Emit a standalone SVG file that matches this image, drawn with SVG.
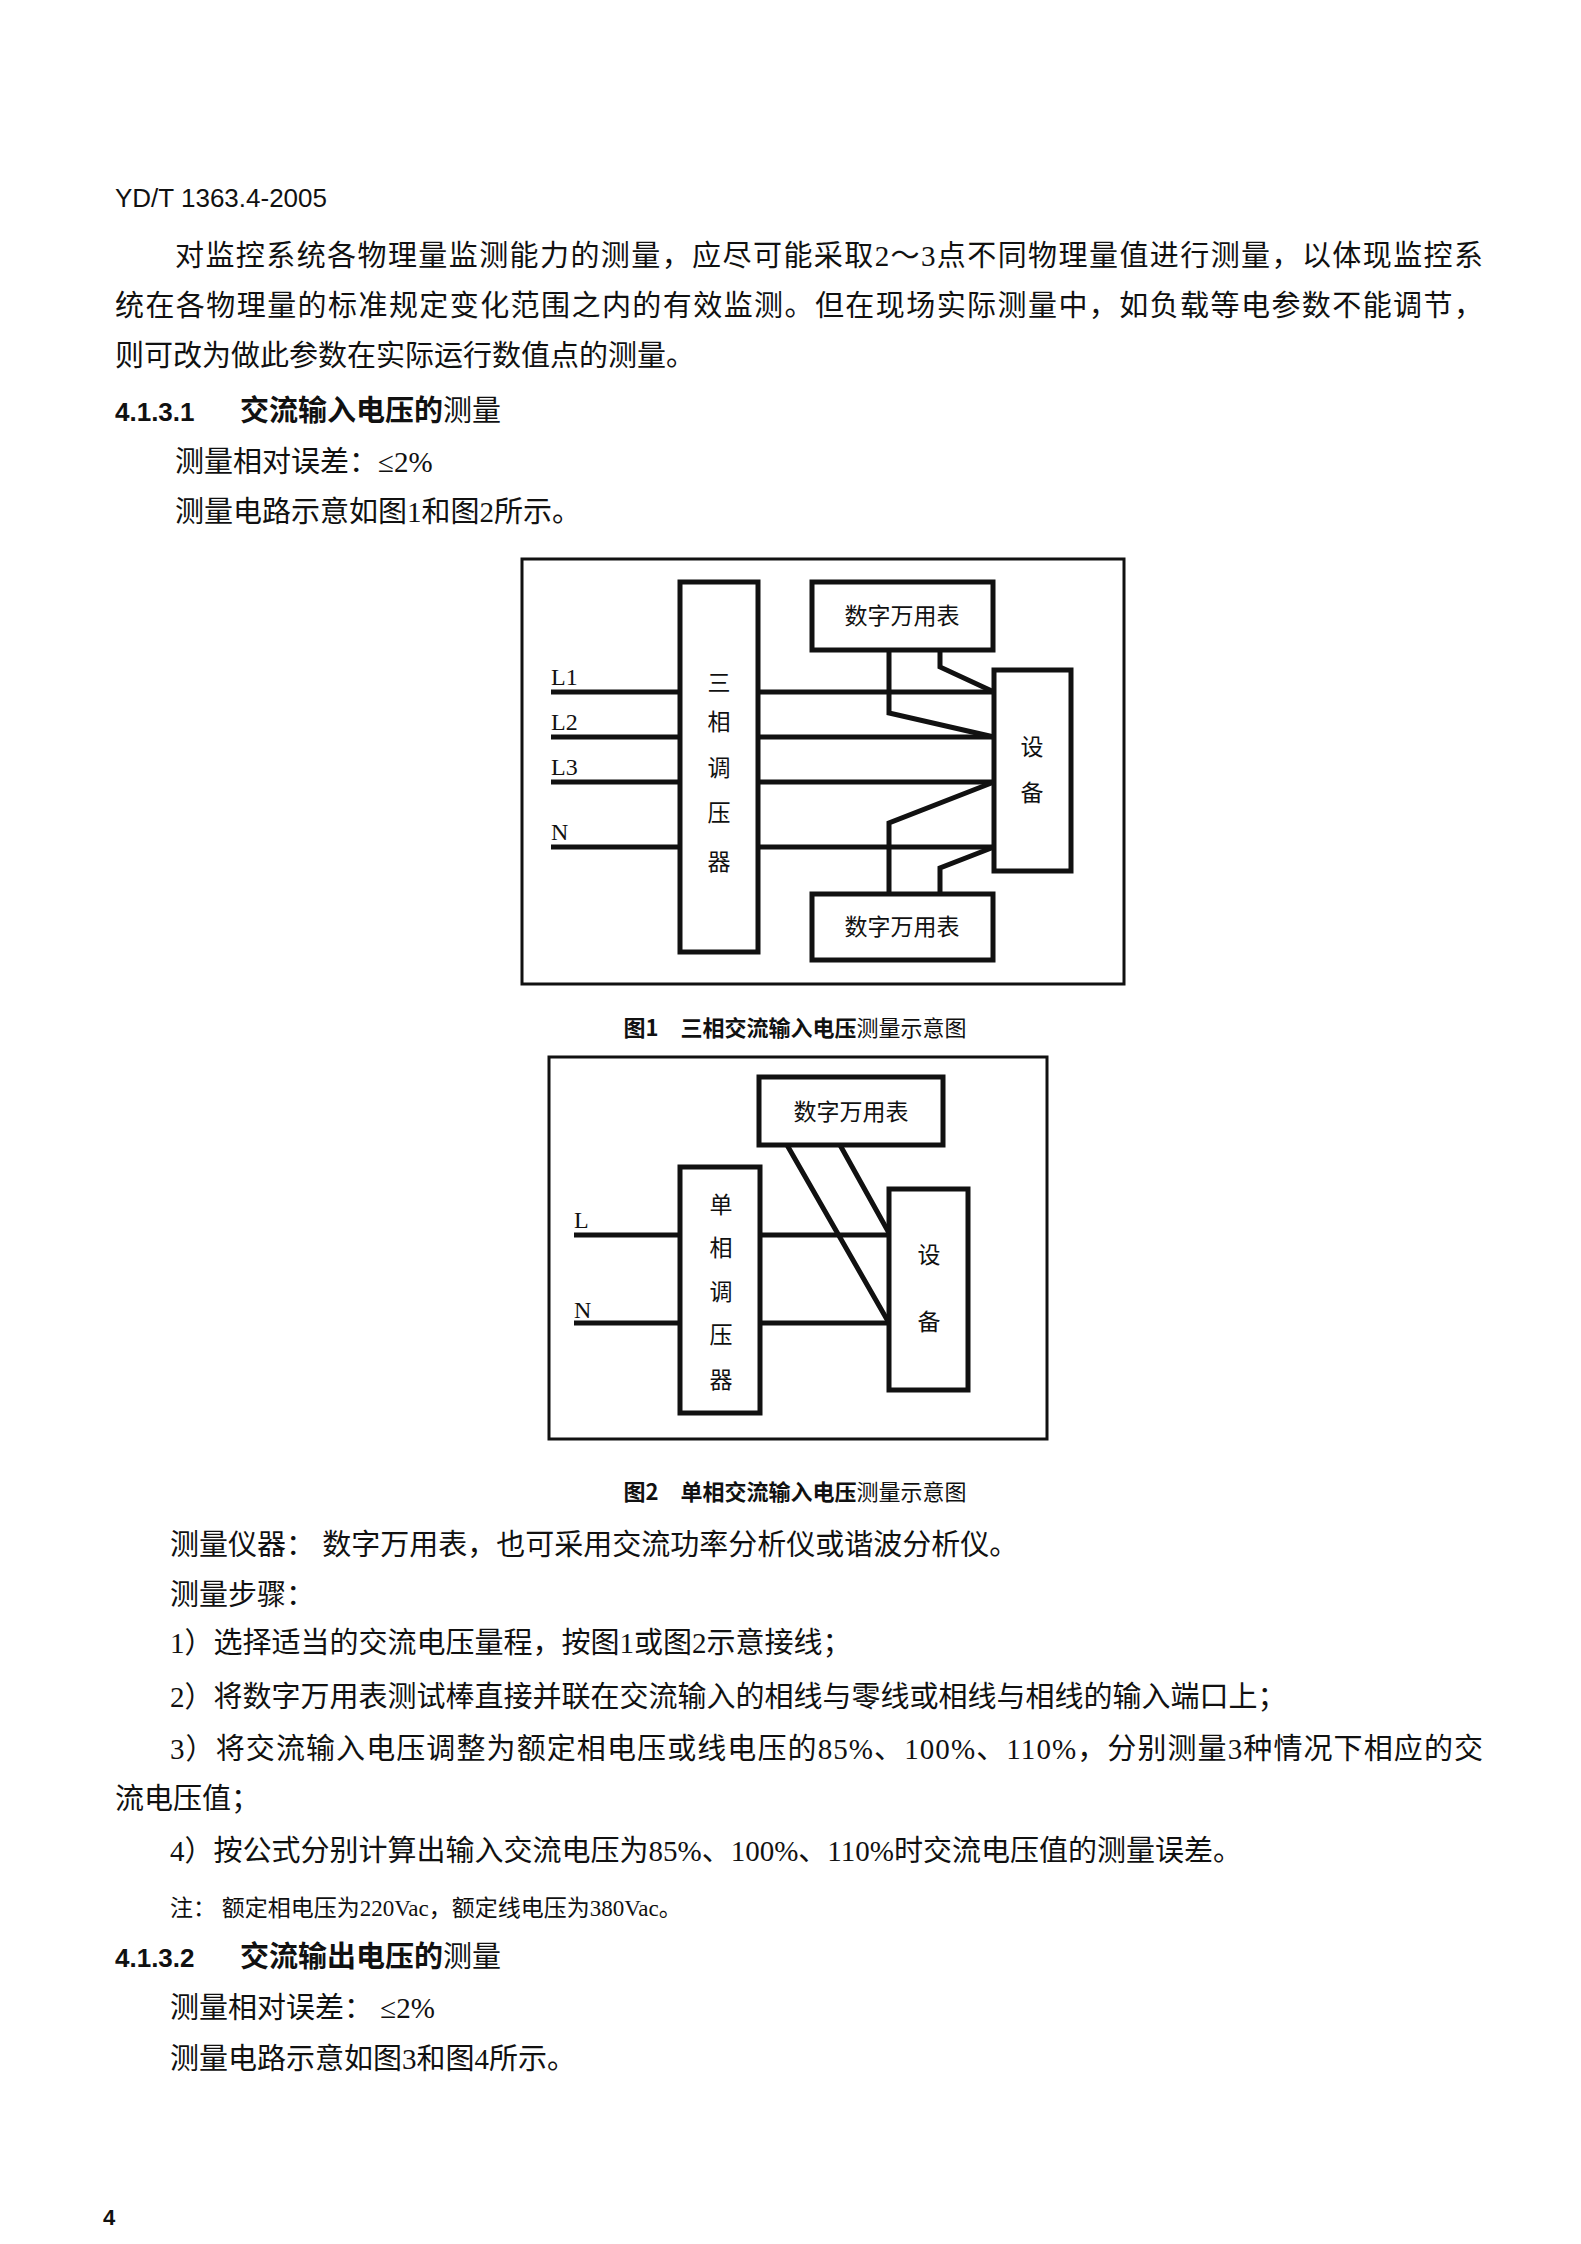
<svg xmlns="http://www.w3.org/2000/svg" width="1581" height="2244" viewBox="0 0 1581 2244">
<style>
.t{font-family:"Liberation Serif","Noto Sans CJK SC",serif;font-size:29px;fill:#111}
.h{font-family:"Liberation Sans","Noto Sans CJK SC",sans-serif;font-size:26px;fill:#111}
.hb{font-weight:bold}
.b{fill:none;stroke:#111;stroke-width:3}
.bx{fill:#fff;stroke:#111;stroke-width:5}
.w{fill:none;stroke:#111;stroke-width:5}
.n{font-family:"Noto Sans CJK SC",sans-serif;font-size:23px;fill:#111;text-anchor:middle}
.lb{font-family:"Liberation Serif",serif;font-size:24px;fill:#111}
.c{font-family:"Noto Sans CJK SC",sans-serif;font-size:22px;fill:#111;text-anchor:middle}
</style>
<rect width="1581" height="2244" fill="#fff"/>
<text class="h" x="115" y="207">YD/T 1363.4-2005</text>
<text class="t" x="175" y="266" textLength="1308">对监控系统各物理量监测能力的测量，应尽可能采取2～3点不同物理量值进行测量，以体现监控系</text>
<text class="t" x="115" y="316" textLength="1368">统在各物理量的标准规定变化范围之内的有效监测。但在现场实际测量中，如负载等电参数不能调节，</text>
<text class="t" x="115" y="366">则可改为做此参数在实际运行数值点的测量。</text>
<text class="h hb" x="115" y="421">4.1.3.1</text><text class="t" x="240" y="421"><tspan class="hb">交流输入电压的</tspan>测量</text>
<text class="t" x="175" y="472">测量相对误差：≤2%</text>
<text class="t" x="175" y="522">测量电路示意如图1和图2所示。</text>

<g id="fig1">
<rect class="b" x="522" y="559" width="602" height="425"/>
<g id="connectors1">
<path class="w" d="M551 692H680M551 737H680M551 782H680M551 847H680"/>
<path class="w" d="M758 692H994M758 737H994M758 782H994M758 847H994"/>
<path class="w" d="M940 650V667L994 692M889 650V713L994 737"/>
<path class="w" d="M889 894V823L994 782M940 894V868L994 847"/>
</g>
<text class="lb" x="551" y="685">L1</text>
<text class="lb" x="551" y="730">L2</text>
<text class="lb" x="551" y="775">L3</text>
<text class="lb" x="551" y="840">N</text>
<g id="regulator3"><rect class="bx" x="680" y="582" width="78" height="370"/>
<text class="n" x="719" y="691">三</text><text class="n" x="719" y="730">相</text><text class="n" x="719" y="776">调</text><text class="n" x="719" y="821">压</text><text class="n" x="719" y="870">器</text></g>
<g id="meter1a"><rect class="bx" x="812" y="582" width="181" height="68"/><text class="n" x="902" y="624">数字万用表</text></g>
<g id="meter1b"><rect class="bx" x="812" y="894" width="181" height="66"/><text class="n" x="902" y="935">数字万用表</text></g>
<g id="device1"><rect class="bx" x="994" y="670" width="77" height="201"/><text class="n" x="1032" y="755">设</text><text class="n" x="1032" y="801">备</text></g>
<text class="c" x="795" y="1036"><tspan class="hb">图1　三相交流输入电压</tspan>测量示意图</text>
</g>

<g id="fig2">
<rect class="b" x="549" y="1057" width="498" height="382"/>
<g id="connectors2">
<path class="w" d="M574 1235H680M574 1323H680M760 1235H889M760 1323H889"/>
<path class="w" d="M787 1145L889 1323M840 1145L889 1233"/>
</g>
<text class="lb" x="574" y="1228">L</text>
<text class="lb" x="574" y="1318">N</text>
<g id="meter2"><rect class="bx" x="759" y="1077" width="184" height="68"/><text class="n" x="851" y="1120">数字万用表</text></g>
<g id="regulator1"><rect class="bx" x="680" y="1167" width="80" height="246"/>
<text class="n" x="721" y="1213">单</text><text class="n" x="721" y="1256">相</text><text class="n" x="721" y="1300">调</text><text class="n" x="721" y="1343">压</text><text class="n" x="721" y="1388">器</text></g>
<g id="device2"><rect class="bx" x="889" y="1189" width="79" height="201"/><text class="n" x="929" y="1263">设</text><text class="n" x="929" y="1330">备</text></g>
<text class="c" x="795" y="1500"><tspan class="hb">图2　单相交流输入电压</tspan>测量示意图</text>
</g>

<text class="t" x="170" y="1555">测量仪器：  数字万用表，也可采用交流功率分析仪或谐波分析仪。</text>
<text class="t" x="170" y="1605">测量步骤：</text>
<text class="t" x="170" y="1653">1）选择适当的交流电压量程，按图1或图2示意接线；</text>
<text class="t" x="170" y="1707">2）将数字万用表测试棒直接并联在交流输入的相线与零线或相线与相线的输入端口上；</text>
<text class="t" x="170" y="1759" textLength="1313">3）将交流输入电压调整为额定相电压或线电压的85%、100%、110%，分别测量3种情况下相应的交</text>
<text class="t" x="115" y="1809">流电压值；</text>
<text class="t" x="170" y="1861">4）按公式分别计算出输入交流电压为85%、100%、110%时交流电压值的测量误差。</text>
<text class="t" x="170" y="1916" style="font-size:23px">注：  额定相电压为220Vac，额定线电压为380Vac。</text>
<text class="h hb" x="115" y="1967">4.1.3.2</text><text class="t" x="240" y="1967"><tspan class="hb">交流输出电压的</tspan>测量</text>
<text class="t" x="170" y="2018">测量相对误差：  ≤2%</text>
<text class="t" x="170" y="2069">测量电路示意如图3和图4所示。</text>
<text class="h hb" x="103" y="2225" style="font-size:22px">4</text>
</svg>
